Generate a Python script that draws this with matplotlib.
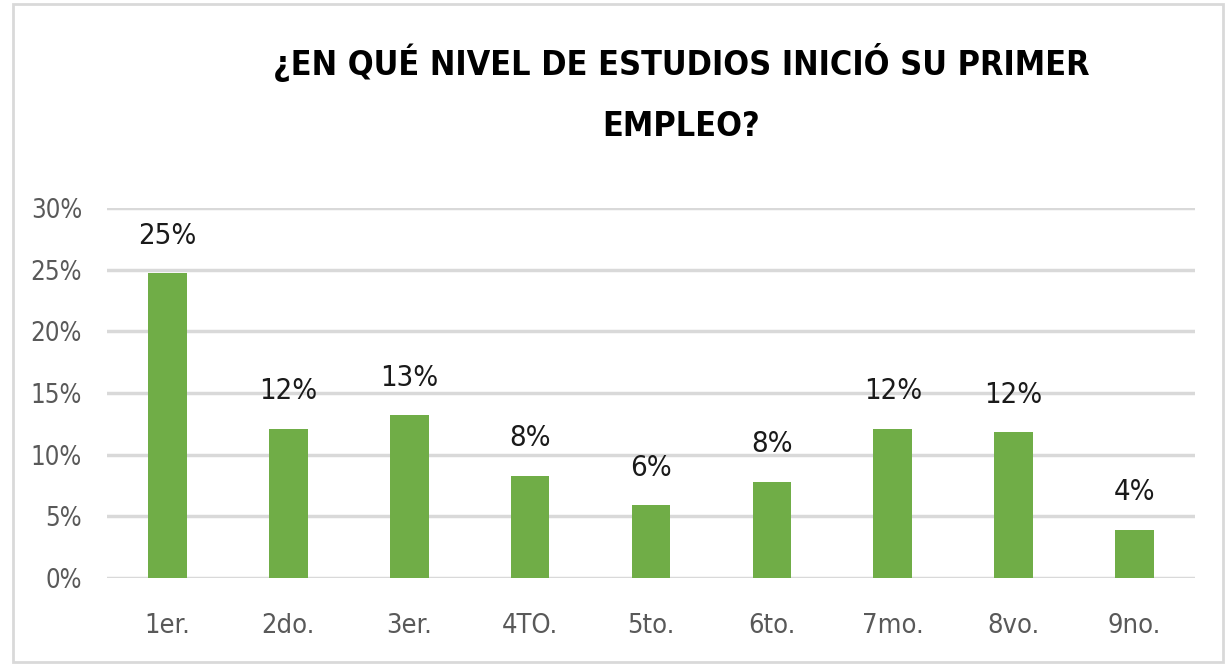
import matplotlib
matplotlib.use("Agg")
import matplotlib.pyplot as plt
from matplotlib import font_manager
from matplotlib.patches import Rectangle

# Datos
categorias = ["1er.", "2do.", "3er.", "4TO.", "5to.", "6to.", "7mo.", "8vo.", "9no."]
valores = [0.247, 0.121, 0.132, 0.083, 0.059, 0.078, 0.121, 0.118, 0.039]
etiquetas = ["25%", "12%", "13%", "8%", "6%", "8%", "12%", "12%", "4%"]
ticks_y = [0.0, 0.05, 0.10, 0.15, 0.20, 0.25, 0.30]
ticks_y_txt = ["0%", "5%", "10%", "15%", "20%", "25%", "30%"]
titulo = "¿EN QUÉ NIVEL DE ESTUDIOS INICIÓ SU PRIMER\nEMPLEO?"

# Buscar una fuente estrecha instalada (el original usa una letra condensada)
condensadas = [f for f in font_manager.fontManager.ttflist
               if f.stretch in ("condensed", "semi-condensed", "extra-condensed")
               or "Narrow" in f.name or "Condensed" in f.name]
if condensadas:
    fuente = condensadas[0].name
    estiramiento = condensadas[0].stretch
else:
    fuente = "Liberation Sans"
    estiramiento = "normal"
plt.rcParams["font.family"] = [fuente, "DejaVu Sans"]
plt.rcParams["font.stretch"] = estiramiento

VERDE = "#70AD47"
GRIS = "#595959"

fig = plt.figure(figsize=(12.29, 6.66), dpi=100)
ax = fig.add_axes([107 / 1229, 1 - 578 / 666, (1195 - 107) / 1229, (578 - 208) / 666])

x = range(len(categorias))
ax.bar(x, valores, width=0.32, color=VERDE, zorder=3)

# Etiquetas de datos encima de cada barra
for xi, v, t in zip(x, valores, etiquetas):
    ax.annotate(t, (xi, v), xytext=(0, 17), textcoords="offset points",
                ha="center", va="bottom", fontsize=21, color="#1a1a1a")

ax.set_xlim(-0.5, len(categorias) - 0.5)
ax.set_ylim(0, 0.30)
ax.set_yticks(ticks_y)
ax.set_yticklabels(ticks_y_txt, fontsize=18.5, color=GRIS)
ax.set_xticks(list(x))
ax.set_xticklabels(categorias, fontsize=19.5, color=GRIS)
ax.tick_params(axis="both", length=0)
ax.tick_params(axis="y", pad=18)
ax.tick_params(axis="x", pad=25)
ax.grid(axis="y", color="#D9D9D9", linewidth=2.5, zorder=0)
for s in ax.spines.values():
    s.set_visible(False)

fig.text(681 / 1229, 1 - 93 / 666, titulo, ha="center", va="center",
         fontsize=24.5, fontweight="bold", color="black", linespacing=2.1)

# Marco del gráfico
fig.patches.append(Rectangle((13 / 1229, 4 / 666), 1210 / 1229, 658 / 666,
                             transform=fig.transFigure, fill=False,
                             edgecolor="#D9D9D9", linewidth=2))

fig.savefig("out.png", dpi=100)
